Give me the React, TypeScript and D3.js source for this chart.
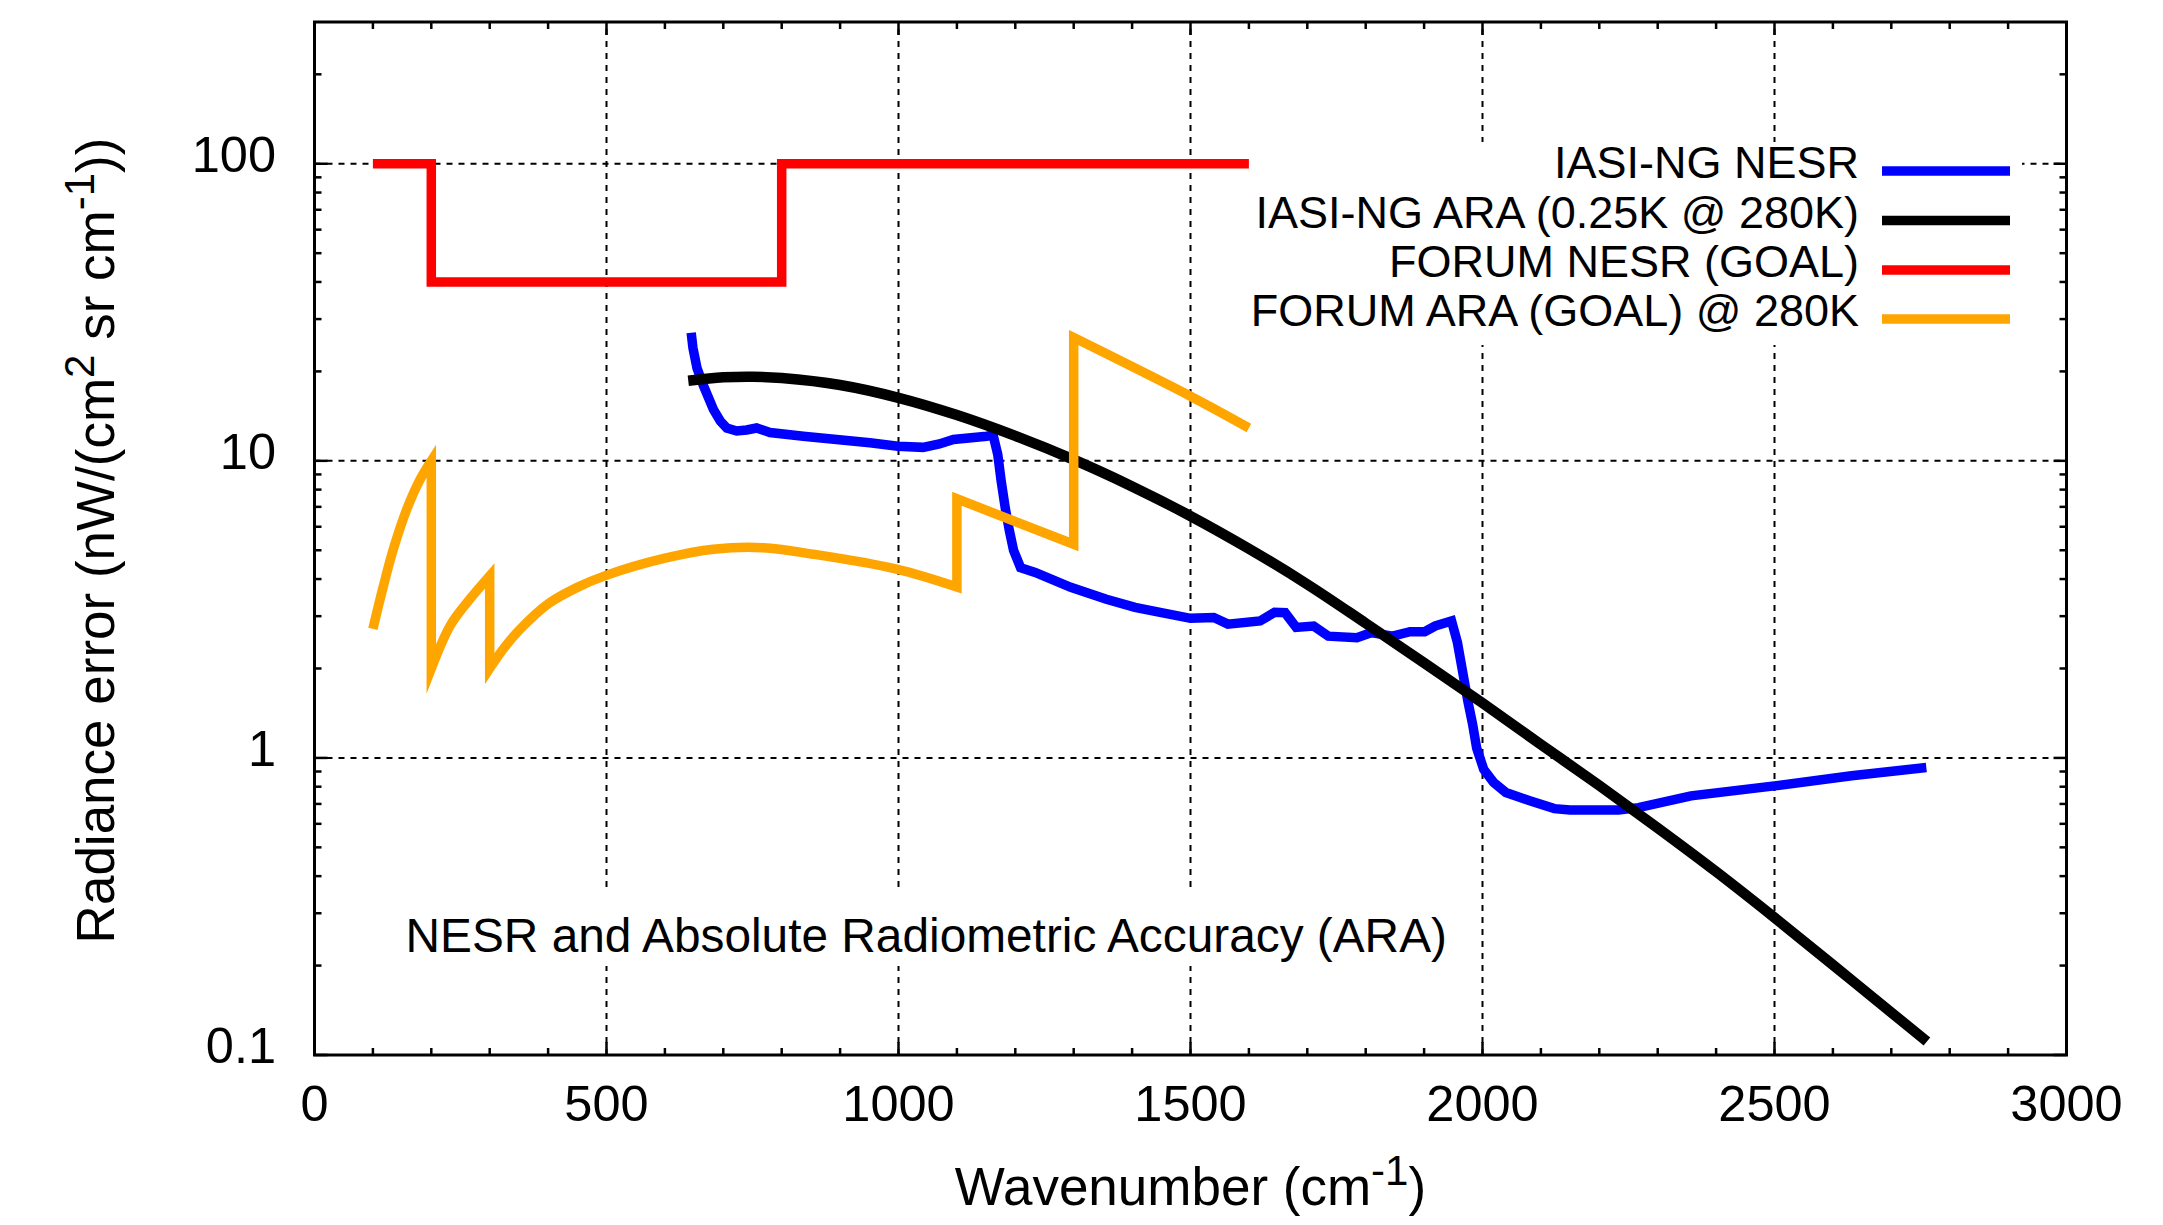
import React from "react";
import * as d3 from "d3";

const xTicks = [0, 500, 1000, 1500, 2000, 2500, 3000];
const yTicks = [0.1, 1, 10, 100];
const yTickLabels = ["0.1", "1", "10", "100"];

const iasiNesr: [number, number][] = [
  [645, 27], [648, 24], [655, 20.5], [666, 17.9], [683, 14.9], [695, 13.6], [706, 12.9],
  [723, 12.6], [740, 12.7], [757, 12.9], [780, 12.45], [837, 12.1], [894, 11.8], [951, 11.5],
  [999, 11.2], [1042, 11.1], [1070, 11.4], [1094, 11.8], [1151, 12.1], [1162, 12.2],
  [1170, 10.5], [1176, 8.5], [1183, 6.9], [1190, 5.8], [1197, 5.0], [1209, 4.37], [1234, 4.21],
  [1295, 3.75], [1356, 3.42], [1405, 3.21], [1448, 3.09], [1500, 2.95], [1540, 2.97],
  [1564, 2.82], [1619, 2.89], [1644, 3.09], [1662, 3.08], [1681, 2.75], [1711, 2.78],
  [1736, 2.57], [1785, 2.54], [1809, 2.64], [1846, 2.57], [1876, 2.66], [1901, 2.66],
  [1919, 2.78], [1947, 2.89], [1957, 2.45], [1965, 2.0], [1975, 1.55], [1983, 1.3],
  [1990, 1.08], [2002, 0.916], [2019, 0.827], [2040, 0.765], [2081, 0.717], [2123, 0.675],
  [2150, 0.668], [2233, 0.668], [2267, 0.68], [2357, 0.745], [2500, 0.805], [2632, 0.871],
  [2760, 0.928],
];

const iasiAra: [number, number][] = [
  [640, 18.6], [700, 19.1], [750, 19.2], [800, 19.0], [900, 18.0], [1000, 16.3], [1100, 14.26],
  [1200, 12.13], [1300, 10.09], [1400, 8.2], [1500, 6.52], [1600, 5.06], [1700, 3.84],
  [1800, 2.84], [1900, 2.09], [2000, 1.53], [2100, 1.11], [2200, 0.807], [2300, 0.581],
  [2400, 0.414], [2500, 0.29], [2600, 0.201], [2700, 0.139], [2761, 0.111],
];

const forumNesr: [number, number][] = [
  [100, 100], [200, 100], [200, 40], [800, 40], [800, 100], [1600, 100],
];

// FORUM ARA, one array per band (joined by vertical steps)
const forumAraBand1: [number, number][] = [
  [100, 2.72], [118, 3.79], [135, 5.04], [158, 6.87], [181, 8.67], [200, 10.0],
];
const forumAraBand2: [number, number][] = [
  [200, 2.0], [232, 2.78], [261, 3.33], [300, 4.1],
];
const forumAraBand3: [number, number][] = [
  [300, 2.0], [325, 2.35], [352, 2.71], [400, 3.3], [450, 3.75], [497, 4.1],
  [600, 4.7], [683, 5.04], [768, 5.1], [854, 4.85], [997, 4.32], [1100, 3.76],
];
const forumAraBand4: [number, number][] = [[1100, 7.45], [1300, 5.24]];
const forumAraBand5: [number, number][] = [[1300, 26.0], [1500, 16.5], [1600, 12.9]];
const forumAraBands = [forumAraBand1, forumAraBand2, forumAraBand3, forumAraBand4, forumAraBand5];

const legendLabels = [
  "IASI-NG NESR",
  "IASI-NG ARA (0.25K @ 280K)",
  "FORUM NESR (GOAL)",
  "FORUM ARA (GOAL) @ 280K",
];
const colors = ["#0000ff", "#000000", "#ff0000", "#ffa500"];

const W = 2163;
const H = 1225;
const L = 314.5, R = 2066.5, T = 22, B = 1055;
const FONT = "'Liberation Sans', Arial, sans-serif";

export default function App() {
  const x = d3.scaleLinear().domain([0, 3000]).range([L, R]);
  const y = d3.scaleLog().domain([0.1, 300]).range([B, T]);

  const lin = d3.line<[number, number]>().x((d) => x(d[0])).y((d) => y(d[1]));
  const smooth = d3
    .line<[number, number]>()
    .x((d) => x(d[0]))
    .y((d) => y(d[1]))
    .curve(d3.curveCatmullRom.alpha(0.5));

  const orangePath = forumAraBands
    .map((band, i) => {
      const p = smooth(band) || "";
      return i === 0 ? p : "L" + p.slice(1);
    })
    .join("");

  const xMinor = d3.range(0, 3001, 100).filter((v) => v % 500 !== 0);
  const yMinor: number[] = [];
  [0.1, 1, 10, 100].forEach((dec) => {
    for (let k = 2; k <= 9; k++) {
      const v = dec * k;
      if (v < 300) yMinor.push(v);
    }
  });

  const gridX = xTicks.filter((v) => v > 0 && v < 3000);
  const gridY = yTicks.filter((v) => v > 0.1);

  const major = 13;
  const minor = 7;
  const rowY = [171, 220.5, 270, 319];

  return (
    <svg
      width={W}
      height={H}
      style={{ position: "absolute", left: 0, top: 0, background: "#fff" }}
      fontFamily={FONT}
    >
      <rect x={0} y={0} width={W} height={H} fill="#fff" />
      {/* grid */}
      <g stroke="#000" strokeWidth={2} strokeDasharray="6,6" fill="none">
        {gridX.map((v) => (
          <line key={"gx" + v} x1={x(v)} x2={x(v)} y1={B} y2={T} />
        ))}
        {gridY.map((v) => (
          <line key={"gy" + v} x1={L} x2={R} y1={y(v)} y2={y(v)} />
        ))}
      </g>
      {/* white boxes behind key and label */}
      <rect x={1250} y={142} width={772} height={203} fill="#fff" />
      <rect x={398} y={890} width={1055} height={76} fill="#fff" />

      {/* ticks */}
      <g stroke="#000" strokeWidth={2.5}>
        {xTicks.map((v) => (
          <g key={"xt" + v}>
            <line x1={x(v)} x2={x(v)} y1={B} y2={B - major} />
            <line x1={x(v)} x2={x(v)} y1={T} y2={T + major} />
          </g>
        ))}
        {xMinor.map((v) => (
          <g key={"xm" + v}>
            <line x1={x(v)} x2={x(v)} y1={B} y2={B - minor} />
            <line x1={x(v)} x2={x(v)} y1={T} y2={T + minor} />
          </g>
        ))}
        {yTicks.map((v) => (
          <g key={"yt" + v}>
            <line x1={L} x2={L + major} y1={y(v)} y2={y(v)} />
            <line x1={R} x2={R - major} y1={y(v)} y2={y(v)} />
          </g>
        ))}
        {yMinor.map((v) => (
          <g key={"ym" + v}>
            <line x1={L} x2={L + minor} y1={y(v)} y2={y(v)} />
            <line x1={R} x2={R - minor} y1={y(v)} y2={y(v)} />
          </g>
        ))}
      </g>

      {/* data */}
      <g fill="none" strokeLinecap="butt" strokeLinejoin="miter" strokeMiterlimit={10}>
        <path d={lin(iasiNesr) || ""} stroke={colors[0]} strokeWidth={9.5} />
        <path d={smooth(iasiAra) || ""} stroke={colors[1]} strokeWidth={10.5} />
        <path d={lin(forumNesr) || ""} stroke={colors[2]} strokeWidth={9.5} />
        <path d={orangePath} stroke={colors[3]} strokeWidth={9.5} />
      </g>

      {/* border */}
      <rect x={L} y={T} width={R - L} height={B - T} fill="none" stroke="#000" strokeWidth={3} />

      {/* tick labels */}
      <g fontSize={50.5} fill="#000">
        {xTicks.map((v) => (
          <text key={"xl" + v} x={x(v)} y={1121} textAnchor="middle">
            {v}
          </text>
        ))}
        {yTicks.map((v, i) => (
          <text key={"yl" + v} x={276} y={y(v) + 8} textAnchor="end">
            {yTickLabels[i]}
          </text>
        ))}
      </g>

      {/* axis labels */}
      <text x={(L + R) / 2} y={1205} fontSize={53} textAnchor="middle" fill="#000">
        Wavenumber (cm
        <tspan fontSize={42} dy={-20}>-1</tspan>
        <tspan dy={20}>)</tspan>
      </text>
      <text
        transform={`translate(114, ${(T + B) / 2 + 2}) rotate(-90)`}
        fontSize={53}
        textAnchor="middle"
        fill="#000"
      >
        Radiance error (nW/(cm
        <tspan fontSize={42} dy={-20}>2</tspan>
        <tspan dy={20}> sr cm</tspan>
        <tspan fontSize={42} dy={-20}>-1</tspan>
        <tspan dy={20}>))</tspan>
      </text>

      {/* inner label */}
      <text x={405.6} y={952} fontSize={47.8} fill="#000">
        NESR and Absolute Radiometric Accuracy (ARA)
      </text>

      {/* legend */}
      <g>
        {legendLabels.map((lab, i) => (
          <g key={lab}>
            <text x={1859} y={rowY[i] + 7} fontSize={45} textAnchor="end" fill="#000">
              {lab}
            </text>
            <line
              x1={1882}
              x2={2010}
              y1={rowY[i]}
              y2={rowY[i]}
              stroke={colors[i]}
              strokeWidth={9.5}
            />
          </g>
        ))}
      </g>
    </svg>
  );
}
